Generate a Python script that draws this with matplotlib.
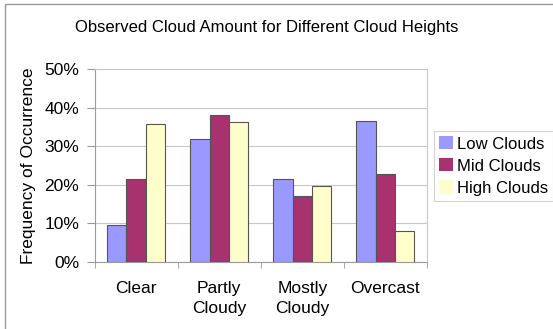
import numpy as np
from matplotlib import pyplot as plt
from matplotlib.patches import Rectangle

# cloud amount categories and frequency of occurrence (%) per cloud height
categories = ["Clear", "Partly\nCloudy", "Mostly\nCloudy", "Overcast"]
series_names = ["Low Clouds", "Mid Clouds", "High Clouds"]
low_clouds = [9.6, 32.0, 21.6, 36.6]
mid_clouds = [21.5, 38.1, 17.2, 22.9]
high_clouds = [35.8, 36.4, 19.8, 8.1]
y_ticks = [0, 10, 20, 30, 40, 50]

colors = ["#9999ff", "#a8326e", "#ffffcc"]

plt.rcParams["font.family"] = ["Liberation Sans", "DejaVu Sans"]
plt.rcParams["font.size"] = 12.5

fig = plt.figure(figsize=(5.53, 3.29), dpi=100)
fig.patches.append(Rectangle((5 / 553, -0.1), 1.2, 1 - 4 / 329 + 0.1,
                             transform=fig.transFigure, fill=False,
                             edgecolor="#9a9a9a", linewidth=1.0))

ax = fig.add_axes([0.171, 0.2036, 0.601, 0.5854])

x = np.arange(len(categories))
w = 0.233
for i, (vals, name) in enumerate(zip([low_clouds, mid_clouds, high_clouds], series_names)):
    ax.bar(x + (i - 1) * w, vals, w, color=colors[i], edgecolor="#555555",
           linewidth=0.8, label=name, zorder=3)

ax.set_xlim(-0.5, len(categories) - 0.5)
ax.set_ylim(0, 50)
ax.set_yticks(y_ticks)
ax.set_yticklabels([f"{t}%" for t in y_ticks])
ax.yaxis.grid(True, color="#c8c8c8", linewidth=0.8, zorder=0)

ax.set_xticks(x)
ax.set_xticklabels(categories, linespacing=1.35)
ax.set_xticks(np.arange(-0.5, len(categories)), minor=True)
ax.tick_params(axis="x", which="major", length=0, pad=14)
ax.tick_params(axis="x", which="minor", length=4, color="#9a9a9a")
ax.tick_params(axis="y", length=6, color="#9a9a9a", pad=5)

for side in ["top", "right"]:
    ax.spines[side].set_color("#c8c8c8")
for side in ["left", "bottom"]:
    ax.spines[side].set_color("#9a9a9a")

ax.set_ylabel("Frequency of Occurrence", labelpad=6)
fig.text(0.483, 0.915, "Observed Cloud Amount for Different Cloud Heights",
         ha="center", va="center", fontsize=12)

leg = ax.legend(loc="center left", bbox_to_anchor=(1.021, 0.499), frameon=True,
                fancybox=False, edgecolor="#c8c8c8", handlelength=0.85,
                handleheight=0.85, handletextpad=0.25, borderpad=0.3,
                labelspacing=0.4, borderaxespad=0, fontsize=12)
leg.get_frame().set_linewidth(0.8)
for h in leg.legend_handles:
    h.set_edgecolor("none")

fig.savefig("out.png", dpi=100)
